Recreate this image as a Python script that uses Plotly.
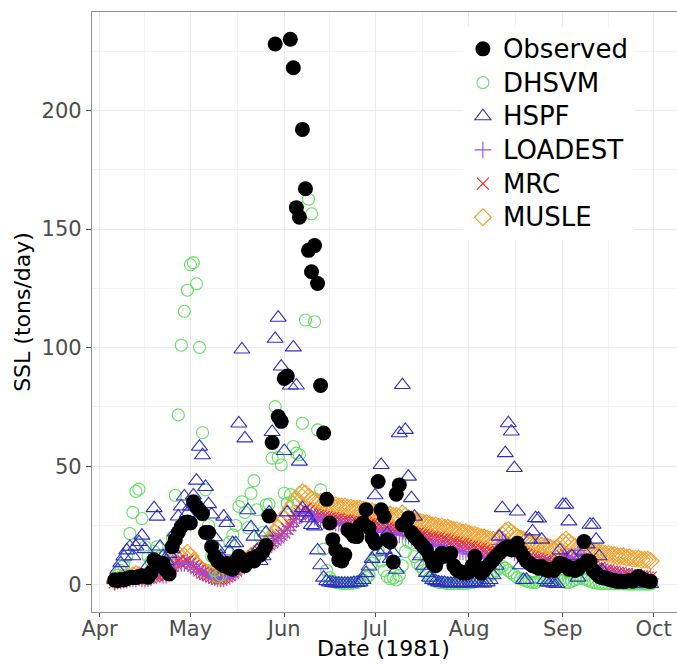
import pandas as pd
import plotly.graph_objects as go

# Daily suspended sediment load, 6 Apr - 30 Sep 1981 (tons/day)
dates = pd.date_range("1981-04-06", "1981-09-30", freq="D")

observed = [
    2.0, 1.8, 2.2, 2.0, 2.5, 3.0, 3.2, 3.0, 3.5, 3.8,
    3.5, 3.2, 5.0, 10.5, 9.5, 8.0, 9.0, 6.0, 4.5, 16.0,
    19.0, 22.0, 24.5, 26.0, 26.5, 26.0, 35.0, 33.0, 31.5, 30.0,
    22.0, 22.0, 16.0, 12.0, 10.0, 9.0, 8.0, 9.0, 7.0, 6.5,
    10.0, 12.0, 10.0, 8.0, 9.5, 11.0, 10.0, 12.0, 12.5, 14.0,
    16.5, 29.0, 60.0, 228.0, 70.9, 68.9, 87.0, 88.0, 230.0, 218.0,
    159.0, 155.0, 192.0, 167.0, 141.0, 132.0, 143.0, 127.0, 84.0, 64.0,
    36.0, 26.0, 19.0, 14.7, 10.5, 10.0, 12.6, 23.2, 22.0, 20.5,
    20.3, 25.0, 26.0, 31.6, 24.0, 19.7, 17.5, 43.5, 31.6, 28.8,
    19.0, 18.0, 9.6, 38.2, 42.1, 25.3, 26.0, 28.1, 22.0, 20.3,
    19.0, 17.5, 16.0, 14.7, 12.0, 9.1, 8.0, 11.0, 13.3, 12.0,
    12.5, 13.3, 8.0, 6.3, 5.5, 5.0, 4.9, 5.5, 8.0, 11.9,
    7.0, 4.9, 6.0, 7.7, 9.0, 10.5, 12.0, 13.3, 14.5, 15.5,
    16.0, 14.7, 16.0, 17.5, 14.0, 11.9, 10.0, 9.1, 8.0, 7.7,
    7.0, 7.7, 6.5, 6.0, 6.5, 6.0, 7.5, 9.1, 8.5, 8.0,
    6.5, 7.0, 6.0, 6.5, 8.0, 18.2, 10.0, 9.8, 6.0, 4.9,
    3.5, 3.0, 2.8, 2.5, 2.0, 1.8, 1.4, 1.5, 1.3, 1.5,
    1.8, 1.5, 2.5, 3.5, 2.5, 2.0, 1.6, 1.4,
]

dhsvm = [
    2.5, 4.0, 6.0, 8.0, 12.0, 21.6, 30.5, 39.4, 40.3, 27.9,
    16.0, 12.0, 10.0, 14.0, 16.0, 12.0, 10.0, 9.0, 14.0, 20.0,
    37.7, 71.6, 101.0, 115.3, 124.2, 134.9, 135.8, 126.9, 100.1, 64.1,
    40.0, 25.0, 12.0, 6.0, 3.5, 4.0, 8.0, 14.0, 18.0, 21.0,
    25.0, 33.0, 35.0, 30.5, 24.0, 38.5, 43.9, 31.6, 20.3, 22.0,
    33.7, 34.0, 53.4, 75.1, 53.7, 50.5, 38.6, 34.4, 38.0, 58.3,
    55.5, 54.8, 68.1, 111.6, 162.6, 156.4, 110.9, 65.3, 40.0, 15.0,
    6.0, 3.0, 1.5, 1.0, 0.8, 0.6, 0.5, 0.5, 0.6, 0.8,
    1.0, 1.5, 2.0, 3.0, 4.0, 9.1, 12.0, 14.5, 10.0, 6.0,
    3.5, 2.5, 2.8, 2.0, 4.0, 8.0, 14.0, 18.0, 17.5, 11.9,
    9.0, 7.7, 6.0, 4.9, 3.0, 2.0, 1.5, 1.0, 1.0, 0.8,
    0.5, 0.5, 0.5, 0.6, 0.5, 0.5, 0.6, 0.8, 1.0, 1.5,
    2.0, 2.5, 3.0, 3.5, 4.0, 5.0, 6.0, 7.0, 7.7, 7.0,
    6.0, 5.0, 4.0, 3.0, 2.5, 2.0, 1.5, 1.2, 1.0, 1.0,
    1.5, 2.0, 2.5, 3.0, 3.5, 3.0, 2.5, 2.0, 1.5, 1.0,
    1.0, 1.5, 2.0, 2.5, 3.0, 2.5, 2.0, 1.5, 1.0, 0.8,
    0.6, 0.5, 0.5, 0.5, 0.5, 0.4, 0.4, 0.4, 0.4, 0.3,
    0.3, 0.3, 0.3, 0.3, 0.3, 0.3, 0.3, 0.3,
]

hspf = [
    2.0, 6.3, 9.1, 11.9, 14.5, 16.0, 12.0, 16.1, 18.0, 20.7,
    15.0, 8.0, 7.0, 32.3, 28.7, 16.1, 12.0, 10.0, 13.0, 15.0,
    22.0, 28.8, 33.0, 37.2, 30.0, 33.0, 37.7, 43.9, 58.2, 54.6,
    41.2, 34.0, 29.6, 20.0, 15.0, 12.0, 28.7, 26.0, 14.0, 17.5,
    17.5, 68.0, 99.2, 61.7, 31.4, 24.3, 20.3, 14.5, 10.0, 12.0,
    22.0, 30.5, 64.4, 103.7, 112.6, 92.0, 56.4, 30.5, 84.0, 100.1,
    84.0, 51.9, 32.3, 30.5, 28.0, 25.2, 24.6, 14.5, 8.2, 3.0,
    1.5, 1.0, 0.8, 0.5, 0.5, 0.5, 0.5, 0.5, 0.5, 0.8,
    0.8, 1.0, 2.0, 4.9, 7.7, 10.9, 37.7, 14.0, 50.5, 14.7,
    21.6, 10.9, 13.3, 6.3, 63.9, 84.2, 65.3, 45.6, 36.5, 28.7,
    20.0, 12.0, 8.0, 5.0, 3.0, 2.0, 1.5, 1.0, 0.8, 0.8,
    0.5, 0.5, 0.5, 0.8, 0.5, 0.5, 0.5, 0.5, 0.8, 1.0,
    0.8, 0.5, 0.5, 1.0, 2.0, 4.0, 8.0, 20.3, 32.3, 55.5,
    68.1, 64.6, 49.2, 30.9, 8.2, 2.0, 2.1, 19.0, 22.5, 28.1,
    27.9, 19.0, 2.0, 1.0, 1.0, 0.5, 0.3, 14.5, 33.7, 33.7,
    26.7, 12.0, 6.0, 3.0, 8.0, 14.0, 17.0, 25.3, 25.3, 19.0,
    12.0, 6.0, 3.0, 2.0, 1.5, 1.0, 0.8, 0.6, 0.5, 0.5,
    0.5, 0.4, 0.4, 0.3, 0.3, 0.3, 0.3, 0.3,
]

loadest = [
    1.0, 1.5, 1.5, 2.0, 2.0, 2.5, 2.5, 2.5, 3.0, 2.5,
    2.5, 2.5, 3.0, 4.0, 4.5, 4.5, 4.0, 4.0, 5.5, 7.5,
    8.5, 9.0, 9.0, 9.0, 9.5, 8.5, 7.5, 6.5, 5.5, 5.0,
    4.5, 4.0, 3.5, 3.0, 2.5, 2.5, 2.5, 3.0, 3.5, 4.5,
    5.5, 6.5, 7.5, 8.5, 9.5, 10.5, 11.5, 12.5, 13.5, 14.5,
    15.5, 16.5, 17.5, 18.5, 19.5, 20.5, 21.5, 23.0, 24.5, 26.0,
    27.5, 29.0, 30.0, 30.5, 30.0, 29.0, 28.5, 28.0, 27.5, 27.0,
    27.0, 26.5, 26.5, 26.0, 26.0, 25.5, 25.5, 25.0, 25.0, 24.5,
    24.5, 24.0, 24.0, 23.5, 23.5, 23.0, 23.0, 22.5, 22.5, 22.0,
    22.0, 21.5, 21.5, 21.0, 21.0, 22.0, 21.0, 20.5, 20.0, 19.5,
    19.0, 18.5, 18.5, 18.0, 17.5, 17.0, 17.0, 16.5, 16.0, 16.0,
    15.5, 15.0, 15.0, 14.5, 14.0, 14.0, 13.5, 13.0, 13.0, 12.5,
    12.0, 12.0, 11.5, 11.0, 11.0, 11.5, 13.0, 17.0, 19.0, 18.0,
    16.5, 15.0, 13.5, 12.5, 12.0, 11.5, 11.0, 10.5, 10.0, 9.5,
    9.5, 9.0, 9.0, 8.5, 8.5, 8.0, 8.0, 9.5, 11.0, 11.5,
    10.5, 9.5, 12.0, 14.5, 13.0, 11.0, 9.5, 8.5, 7.5, 6.5,
    6.0, 5.5, 5.5, 5.0, 5.0, 4.5, 4.5, 4.0, 4.0, 3.5,
    3.5, 3.5, 3.0, 3.0, 3.0, 2.5, 2.5, 2.5,
]

mrc = [
    1.0, 1.5, 2.0, 2.0, 2.5, 2.5, 3.0, 3.0, 3.0, 2.5,
    2.5, 3.0, 3.0, 3.5, 4.0, 5.0, 4.5, 4.0, 6.0, 8.0,
    9.0, 10.0, 9.0, 9.5, 10.0, 9.0, 8.0, 7.0, 6.0, 5.0,
    4.5, 4.0, 3.5, 3.0, 2.5, 2.5, 3.0, 3.5, 4.0, 5.0,
    6.0, 7.0, 8.0, 9.0, 10.0, 11.0, 12.0, 13.0, 14.0, 15.0,
    16.0, 17.0, 18.0, 19.0, 20.0, 21.0, 22.0, 23.5, 25.0, 27.0,
    28.5, 30.0, 31.0, 32.0, 31.0, 30.0, 29.5, 29.0, 29.0, 28.5,
    28.5, 28.0, 28.0, 27.5, 27.5, 27.0, 27.0, 27.0, 26.5, 26.5,
    26.5, 26.0, 26.0, 26.0, 25.5, 25.5, 25.0, 25.0, 24.5, 24.5,
    24.0, 24.0, 23.5, 23.5, 23.0, 24.0, 23.0, 22.5, 22.0, 21.5,
    21.5, 21.0, 21.0, 20.5, 20.0, 20.0, 19.5, 19.5, 19.0, 19.0,
    18.5, 18.0, 18.0, 17.5, 17.0, 17.0, 16.5, 16.0, 16.0, 15.5,
    15.0, 15.0, 14.5, 14.0, 14.0, 13.5, 13.0, 13.5, 15.0, 16.5,
    17.0, 16.0, 15.0, 14.0, 13.5, 13.0, 12.5, 12.0, 11.5, 11.0,
    11.0, 10.5, 10.0, 10.0, 9.5, 9.0, 9.0, 10.5, 12.0, 12.5,
    11.5, 10.5, 10.0, 9.5, 9.0, 8.5, 8.0, 8.0, 7.5, 7.0,
    7.0, 6.5, 6.0, 6.0, 5.5, 5.5, 5.0, 5.0, 4.5, 4.5,
    4.0, 4.0, 4.0, 3.5, 3.5, 3.5, 3.0, 3.0,
]

musle = [
    1.5, 2.0, 2.5, 3.0, 3.5, 3.0, 4.0, 4.5, 4.0, 3.5,
    3.0, 3.5, 4.0, 4.5, 5.0, 6.0, 5.5, 5.0, 7.0, 10.0,
    12.0, 13.0, 11.0, 12.0, 13.5, 12.0, 10.0, 8.5, 7.0, 6.0,
    5.5, 5.0, 4.5, 4.0, 3.5, 3.0, 3.5, 4.0, 5.0, 6.0,
    7.0, 8.0, 9.0, 10.0, 11.0, 12.0, 13.0, 14.0, 15.0, 16.0,
    17.0, 18.5, 20.0, 22.0, 24.0, 26.0, 28.0, 30.0, 32.0, 34.0,
    36.0, 38.0, 39.0, 38.5, 37.0, 36.0, 35.5, 35.0, 35.0, 34.5,
    34.0, 34.0, 33.5, 33.5, 33.0, 33.0, 33.0, 32.5, 32.5, 32.0,
    32.0, 32.0, 31.5, 31.5, 31.0, 31.0, 30.5, 30.5, 30.0, 30.0,
    29.5, 29.5, 29.0, 29.0, 28.5, 30.0, 29.0, 28.0, 27.5, 27.0,
    27.0, 26.5, 26.0, 26.0, 25.5, 25.0, 25.0, 24.5, 24.5, 24.0,
    24.0, 23.5, 23.0, 23.0, 22.5, 22.0, 22.0, 21.5, 21.0, 21.0,
    20.5, 20.0, 20.0, 19.5, 19.0, 19.0, 18.5, 19.0, 21.0, 22.5,
    23.0, 22.0, 21.0, 20.0, 19.5, 19.0, 18.5, 18.0, 17.5, 17.0,
    17.0, 16.5, 16.0, 16.0, 15.5, 15.0, 15.0, 16.5, 18.0, 19.0,
    18.0, 17.0, 16.0, 15.5, 15.0, 15.0, 14.5, 14.5, 14.0, 14.0,
    13.5, 13.5, 13.0, 13.0, 12.5, 12.5, 12.0, 12.0, 12.0, 11.5,
    11.5, 11.0, 11.0, 11.0, 10.5, 10.5, 10.5, 10.0,
]

month_ticks = pd.date_range("1981-04-01", "1981-10-01", freq="MS")
month_labels = ["Apr", "May", "Jun", "Jul", "Aug", "Sep", "Oct"]
y_ticks = [0, 50, 100, 150, 200]

# minor x grid halfway between month starts
month_edges = pd.date_range("1981-03-01", "1981-11-01", freq="MS")
minor_x = [a + (b - a) / 2 for a, b in zip(month_edges[:-1], month_edges[1:])]

FONT = "DejaVu Sans"

# (label, values, symbol, colour, size, legend rank); drawn back to front
series = [
    ("MUSLE", musle, "diamond-open", "#F2A02C", 13, 6),
    ("MRC", mrc, "x-thin-open", "#F0281E", 12, 5),
    ("LOADEST", loadest, "cross-thin-open", "#A24CE0", 12, 4),
    ("DHSVM", dhsvm, "circle-open", "#62E062", 12, 2),
    ("HSPF", hspf, "triangle-up-open", "#2E2EC4", 14, 3),
]

fig = go.Figure()
for label, vals, sym, col, size, rank in series:
    fig.add_trace(go.Scatter(
        x=dates, y=vals, mode="markers",
        name=f'<span style="font-size:26px">{label}</span>',
        legendrank=rank,
        marker=dict(symbol=sym, color=col, size=size, line=dict(width=1.1, color=col)),
    ))

fig.add_trace(go.Scatter(
    x=dates, y=observed, mode="markers",
    name='<span style="font-size:26px">Observed</span>',
    legendrank=1,
    marker=dict(symbol="circle", color="black", size=15, line=dict(width=0)),
))

fig.update_layout(
    width=677, height=664,
    margin=dict(l=92, r=0, t=12, b=52),
    paper_bgcolor="white", plot_bgcolor="white",
    font=dict(family=FONT, color="black"),
    showlegend=True,
    legend=dict(
        x=0.634, y=0.975, xanchor="left", yanchor="top",
        bgcolor="white", borderwidth=0,
        font=dict(family=FONT, size=23.6, color="black"),
        itemsizing="trace",
    ),
    xaxis=dict(
        type="date",
        range=["1981-03-29 12:00", "1981-10-08 17:00"],
        tickmode="array", tickvals=month_ticks, ticktext=month_labels,
        tickfont=dict(family=FONT, size=21, color="#4D4D4D"),
        ticks="outside", ticklen=4, tickwidth=1, tickcolor="#555555",
        ticklabelstandoff=-6,
        showgrid=True, gridcolor="#EBEBEB", gridwidth=1.2,
        minor=dict(tickmode="array", tickvals=minor_x, showgrid=True,
                   gridcolor="#F3F3F3", gridwidth=0.8, ticks=""),
        showline=True, linecolor="#8F8F8F", linewidth=1.2, mirror=True,
        zeroline=False, automargin=False,
    ),
    yaxis=dict(
        range=[-11.5, 241.5],
        tickmode="array", tickvals=y_ticks,
        tickfont=dict(family=FONT, size=21, color="#4D4D4D"),
        ticks="outside", ticklen=5, tickwidth=1, tickcolor="#555555",
        showgrid=True, gridcolor="#EBEBEB", gridwidth=1.2,
        minor=dict(dtick=25, tick0=0, showgrid=True,
                   gridcolor="#F3F3F3", gridwidth=0.8, ticks=""),
        showline=True, linecolor="#8F8F8F", linewidth=1.2, mirror=False,
        zeroline=False, automargin=False,
        title=dict(text="SSL (tons/day)", font=dict(family=FONT, size=22, color="black"),
                   standoff=4),
    ),
    annotations=[dict(
        text="Date (1981)", xref="paper", yref="paper", x=0.499, y=-0.085,
        xanchor="center", yanchor="bottom", showarrow=False,
        font=dict(family=FONT, size=22, color="black"),
    )],
)

fig.write_html("out.html")
